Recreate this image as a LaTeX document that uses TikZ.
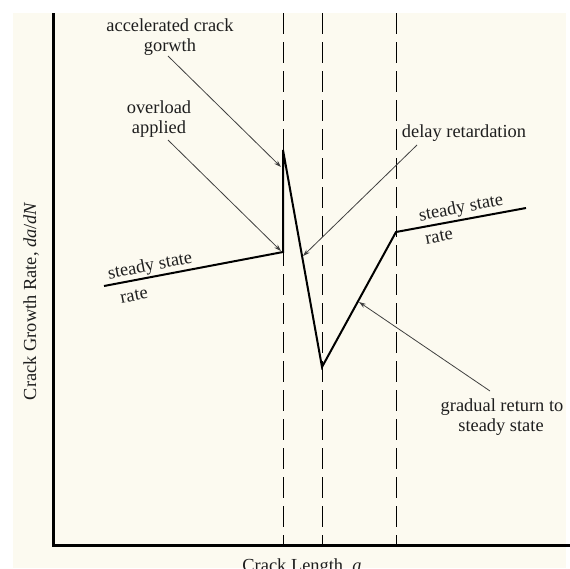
\documentclass[tikz,border=0pt]{standalone}
\usepackage{fontspec}
\setmainfont{Liberation Serif}
\usetikzlibrary{arrows.meta}
\definecolor{cream}{RGB}{252,250,240}
\definecolor{ink}{RGB}{30,30,30}
\tikzset{
  lbl/.style={inner sep=0pt, text=ink, font=\fontsize{18.4}{20}\selectfont, align=center},
  axis/.style={line width=3pt, black},
  guide/.style={line width=1pt, black, dash pattern=on 21pt off 8pt},
  curve/.style={line width=2pt, black, line join=miter},
  pointer/.style={line width=0.8pt, ink!85, -{Stealth[length=7pt,width=4.5pt]}}
}
\begin{document}
\begin{tikzpicture}[x=1pt,y=-1pt]
\useasboundingbox (0,0) rectangle (570,568);
\fill[cream] (13,13) rectangle (566,568);
% guides
\coordinate (g1t) at (283,13); \coordinate (g1b) at (283,545);
\coordinate (g2t) at (322,13); \coordinate (g2b) at (322,545);
\coordinate (g3t) at (396,13); \coordinate (g3b) at (396,545);
\draw[guide] (g1t) -- (g1b);
\draw[guide] (g2t) -- (g2b);
\draw[guide] (g3t) -- (g3b);
% axes
\coordinate (ytop) at (53,13);
\coordinate (origin) at (53,545);
\coordinate (xend) at (570,545);
\draw[axis] (ytop) -- (origin) -- (xend);
% curve
\coordinate (s0) at (104,286);
\coordinate (s1) at (283,252);
\coordinate (pk) at (283,150);
\coordinate (mn) at (322,367);
\coordinate (r1) at (396,232);
\coordinate (r2) at (526,208);
\draw[curve] (s0) -- (s1) -- (pk) -- (mn) -- (r1) -- (r2);
% labels
\node[lbl, anchor=base] (acc1) at (170,31) {accelerated crack};
\node[lbl, anchor=base] (acc2) at (170,51) {gorwth};
\node[lbl, anchor=base] (ov1) at (159,113) {overload};
\node[lbl, anchor=base] (ov2) at (159,133) {applied};
\node[lbl, anchor=base] (dr) at (464,137) {delay retardation};
\node[lbl, anchor=base] (gr1) at (502,411) {gradual return to};
\node[lbl, anchor=base] (gr2) at (501,431) {steady state};
\node[lbl, anchor=base, rotate=11] (ssl) at (151,271) {steady state};
\node[lbl, anchor=base, rotate=11] (rl) at (135,301) {rate};
\node[lbl, anchor=base, rotate=11] (ssr) at (462,213) {steady state};
\node[lbl, anchor=base, rotate=11] (rr) at (440,242) {rate};
\node[lbl, anchor=base, rotate=90] (ylab) at (36,301) {Crack Growth Rate, \textit{da}/\textit{dN}};
\node[lbl, anchor=base] (xlab) at (302,571) {Crack Length, \textit{a}};
% pointers
\coordinate (accs) at (168,56);  \coordinate (acct) at (281,167);
\coordinate (ovs) at (168,140);  \coordinate (ovt) at (281,251);
\coordinate (drs) at (417,145);  \coordinate (drt) at (303,256);
\coordinate (grs) at (490,391);  \coordinate (grt) at (359,302);
\draw[pointer] (accs) -- (acct);
\draw[pointer] (ovs) -- (ovt);
\draw[pointer] (drs) -- (drt);
\draw[pointer] (grs) -- (grt);
\end{tikzpicture}
\end{document}
